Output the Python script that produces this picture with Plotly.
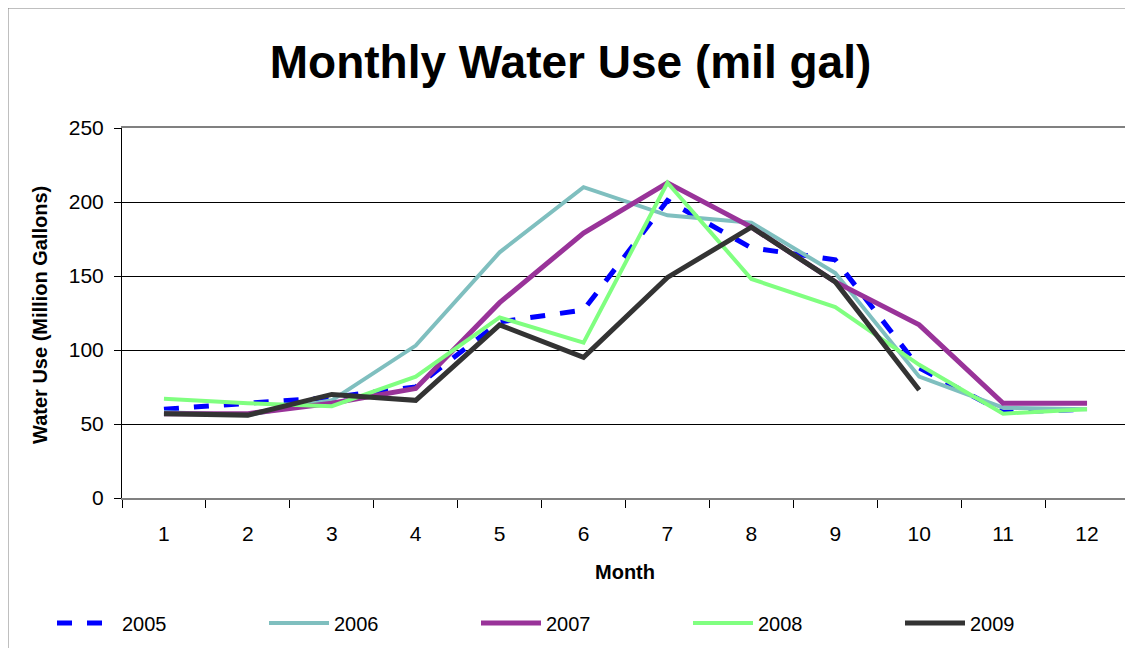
import plotly.graph_objects as go

months = [1, 2, 3, 4, 5, 6, 7, 8, 9, 10, 11, 12]
y2005 = [60, 64, 68, 75, 119, 127, 201, 169, 161, 88, 58, 60]
y2006 = [58, 56, 66, 103, 166, 210, 191, 186, 152, 82, 61, 60]
y2007 = [57, 57, 64, 74, 132, 179, 213, 183, 146, 117, 64, 64]
y2008 = [67, 64, 62, 82, 122, 105, 213, 148, 129, 90, 57, 60]
y2009 = [57, 56, 70, 66, 117, 95, 149, 183, 146, 73, None, None]

series = [
    ("2005", y2005, "#0000FF", 5, "dash"),
    ("2006", y2006, "#7FBFBF", 4, "solid"),
    ("2007", y2007, "#993399", 5, "solid"),
    ("2008", y2008, "#80FF80", 4, "solid"),
    ("2009", y2009, "#333333", 5, "solid"),
]

OFF = 8  # page body margin
W, H = 1133 - OFF, 648 - OFF
L, T = 122 - OFF, 128 - OFF
R = W - (1129 - OFF)
B = H - (498 - OFF)
PW, PH = W - L - R, H - T - B

def sx(p):
    return (p - OFF - L) / PW

def sy(p):
    return (H - B - (p - OFF)) / PH

fig = go.Figure()
for name, ys, color, w, dash in series:
    fig.add_trace(go.Scatter(
        x=months, y=ys, name=name, mode="lines",
        line=dict(color=color, width=w, dash=dash),
        connectgaps=False,
    ))

font = "Liberation Sans, Arial, sans-serif"
bounds = [m - 0.5 for m in months] + [months[-1] + 0.5]

fig.update_layout(
    width=W, height=H,
    margin=dict(l=L, r=R, t=T, b=B, autoexpand=False),
    paper_bgcolor="white", plot_bgcolor="white",
    font=dict(family=font, color="black"),
    title=dict(text="<b>Monthly Water Use (mil gal)</b>", x=0.5, xanchor="center",
               y=1 - (62 - OFF) / H, yanchor="middle", xref="container",
               font=dict(size=46, family=font, color="black")),
    showlegend=True,
    legend=dict(orientation="h", x=sx(52), xanchor="left",
                y=sy(623), yanchor="middle",
                font=dict(size=20, family=font), itemwidth=60,
                entrywidth=137, entrywidthmode="pixels", tracegroupgap=0),
    xaxis=dict(range=[0.5, 12.5], tickvals=months, ticktext=[str(m) for m in months],
               ticks="", showgrid=False, zeroline=False, automargin=False,
               showline=True, linecolor="#808080", linewidth=2, mirror=True,
               tickfont=dict(size=21, family=font), ticklabelstandoff=16,
               minor=dict(tickvals=bounds, ticks="outside", ticklen=8, tickcolor="black", showgrid=False)),
    yaxis=dict(range=[0, 250], tickvals=[0, 50, 100, 150, 200, 250], ticks="outside",
               ticklen=7, tickcolor="black", showgrid=True, gridcolor="black", gridwidth=1,
               zeroline=False, showline=True, linecolor="black", linewidth=1, automargin=False,
               tickfont=dict(size=21, family=font), ticklabelstandoff=6),
    annotations=[
        dict(text="<b>Water Use (Million Gallons)</b>", xref="paper", yref="paper",
             x=sx(40), y=sy(315), textangle=-90, showarrow=False,
             xanchor="center", yanchor="middle", font=dict(size=20, family=font)),
        dict(text="<b>Month</b>", xref="paper", yref="paper",
             x=sx(625), y=sy(572), showarrow=False,
             xanchor="center", yanchor="middle", font=dict(size=20, family=font)),
    ],
    shapes=[dict(type="rect", xref="paper", yref="paper",
                 x0=sx(OFF), x1=sx(1133 + 5), y0=sy(648 + 5), y1=sy(OFF),
                 line=dict(color="#808080", width=1), layer="below")],
)

fig.write_html("out.html")
